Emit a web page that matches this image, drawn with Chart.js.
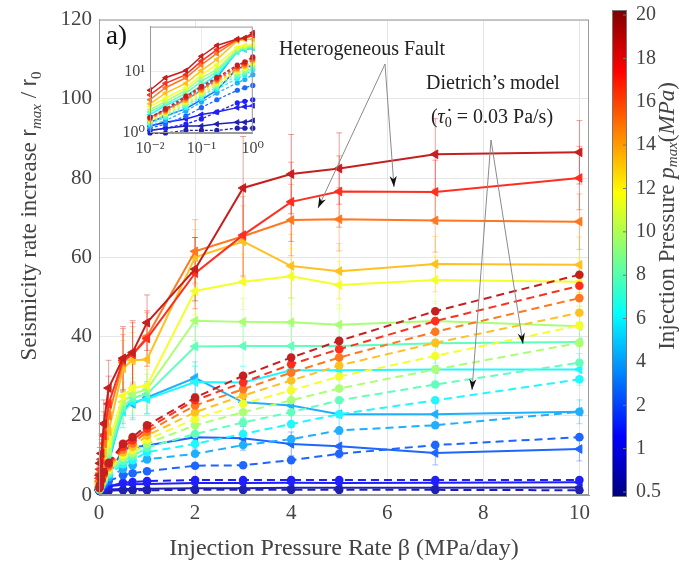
<!DOCTYPE html>
<html><head><meta charset="utf-8">
<script src="https://cdn.jsdelivr.net/npm/chart.js@4.4.1/dist/chart.umd.min.js"></script>
<style>
html,body{margin:0;padding:0;background:#fff;}
#wrap{position:relative;width:689px;height:568px;}
#main{position:absolute;left:0;top:0;}
#inset{position:absolute;left:105px;top:12px;}
</style></head><body>
<div id="wrap"><canvas id="main" width="689" height="568"></canvas><canvas id="inset" width="165" height="155"></canvas></div>
<script>
// ---------------- data ----------------
const betaRate = [0.01, 0.02, 0.05, 0.1, 0.2, 0.5, 0.7, 1, 2, 3, 4, 5, 7, 10];
const pressureLevels = [0.5, 1, 2, 4, 6, 8, 10, 12, 14, 16, 18, 20];
const colorbarLabels = ['0.5', '1', '2', '4', '6', '8', '10', '12', '14', '16', '18', '20'];
const xTicks = [0, 2, 4, 6, 8, 10];
const yTicks = [0, 20, 40, 60, 80, 100, 120];
const insetXTicks = [0.01, 0.1, 1];
const insetYTicks = [1, 10];

// Heterogeneous fault (solid lines, left triangles)
const het_p0_5 = [1.1, 1.2, 1.3, 1.3, 1.4, 1.5, 1.5, 1.6, 1.7, 1.7, 1.8, 1.8, 1.8, 1.9];
const het_p1   = [1.3, 1.5, 1.7, 2.0, 2.2, 2.6, 2.7, 2.8, 3.0, 3.0, 3.1, 3.0, 3.1, 3.2];
const het_p2   = [1.5, 1.9, 2.5, 3.5, 5.0, 11.5, 12.0, 12.5, 14.6, 14.3, 12.9, 12.3, 10.6, 11.6];
const het_p4   = [1.8, 2.4, 3.5, 5.0, 8.0, 22.0, 23.0, 24.6, 29.6, 23.4, 22.6, 20.4, 20.4, 21.0];
const het_p6   = [2.0, 2.8, 4.0, 6.0, 9.0, 21.0, 23.5, 24.2, 28.5, 28.4, 31.5, 31.5, 31.7, 31.7];
const het_p8   = [2.2, 3.0, 4.5, 7.0, 10.0, 22.0, 24.5, 25.5, 37.5, 37.6, 37.6, 37.6, 38.3, 38.6];
const het_p10  = [2.4, 3.3, 5.0, 8.0, 11.0, 23.5, 25.5, 26.7, 44.0, 43.7, 43.6, 43.0, 43.9, 42.6];
const het_p12  = [2.7, 3.7, 5.5, 9.0, 13.0, 25.0, 27.0, 27.6, 51.5, 53.8, 55.2, 53.0, 54.3, 53.8];
const het_p14  = [3.0, 4.5, 6.5, 10.5, 16.0, 32.0, 34.0, 34.2, 60.0, 64.0, 57.8, 56.5, 58.3, 58.1];
const het_p16  = [3.5, 5.5, 8.0, 13.0, 20.0, 33.5, 35.5, 40.0, 61.5, 65.3, 69.4, 69.6, 69.3, 69.0];
const het_p18  = [4.2, 6.5, 9.0, 15.0, 23.0, 34.0, 35.5, 39.5, 56.0, 65.6, 74.0, 76.6, 76.5, 80.0];
const het_p20  = [5.0, 8.0, 10.5, 18.0, 27.0, 34.5, 36.0, 43.5, 57.0, 77.5, 81.0, 82.4, 86.0, 86.5];

// error bar half-widths for the heterogeneous fault runs
const err_p0_5 = [0.3, 0.3, 0.3, 0.3, 0.3, 0.4, 0.4, 0.4, 0.4, 0.4, 0.4, 0.4, 0.4, 0.4];
const err_p1   = [0.3, 0.3, 0.5, 0.5, 0.5, 0.5, 0.5, 0.5, 0.6, 0.6, 0.6, 0.6, 0.6, 0.6];
const err_p2   = [0.5, 1, 1, 1, 2, 2, 2, 2, 3, 3, 3, 3, 3, 3];
const err_p4   = [1, 1, 2, 2, 3, 4, 4, 4, 4, 4, 4, 4, 3, 3];
const err_p6   = [1, 1, 2, 3, 3, 4, 4, 4, 4, 4, 4, 4, 4, 4];
const err_p8   = [1, 2, 2, 3, 4, 5, 5, 5, 5, 5, 5, 5, 5, 5];
const err_p10  = [1, 2, 3, 3, 4, 5, 5, 5, 5, 6, 6, 5, 5, 5];
const err_p12  = [2, 2, 3, 4, 5, 6, 6, 5, 6, 7, 7, 6, 6, 6];
const err_p14  = [2, 3, 4, 5, 6, 7, 7, 6, 7, 9, 8, 7, 7, 7];
const err_p16  = [2, 3, 4, 5, 6, 7, 7, 6, 8, 10, 9, 8, 8, 7];
const err_p18  = [3, 4, 5, 6, 7, 8, 8, 7, 9, 12, 10, 9, 8, 8];
const err_p20  = [3, 4, 5, 6, 7, 8, 8, 7, 8, 13, 10, 9, 9, 8];

// Dietrich's model (dashed lines, circles)
const dtr_p0_5 = [1.0, 1.0, 1.1, 1.1, 1.1, 1.2, 1.2, 1.2, 1.3, 1.3, 1.3, 1.3, 1.3, 1.2];
const dtr_p1   = [1.1, 1.2, 1.4, 1.7, 2.2, 3.1, 3.3, 3.5, 3.8, 3.8, 3.8, 3.8, 3.8, 3.8];
const dtr_p2   = [1.2, 1.4, 1.9, 2.6, 3.5, 5.0, 5.5, 6.0, 7.4, 7.5, 8.8, 10.4, 12.6, 14.6];
const dtr_p4   = [1.3, 1.6, 2.3, 3.2, 4.5, 6.6, 7.5, 9.0, 10.4, 12.6, 14.1, 16.3, 17.6, 21.0];
const dtr_p6   = [1.4, 1.8, 2.6, 3.7, 5.2, 7.8, 8.8, 10.8, 12.9, 15.4, 17.9, 20.4, 23.9, 29.2];
const dtr_p8   = [1.5, 1.9, 2.8, 4.0, 5.7, 8.6, 9.8, 12.0, 15.4, 18.3, 20.9, 23.9, 27.9, 33.4];
const dtr_p10  = [1.6, 2.0, 3.0, 4.3, 6.1, 9.4, 10.6, 13.0, 17.6, 20.9, 23.9, 26.9, 31.7, 38.4];
const dtr_p12  = [1.6, 2.1, 3.2, 4.6, 6.5, 10.1, 11.4, 14.0, 19.2, 23.0, 26.4, 29.9, 35.1, 42.8];
const dtr_p14  = [1.7, 2.2, 3.4, 4.9, 6.9, 10.8, 12.2, 15.0, 20.9, 25.1, 28.9, 32.7, 38.4, 46.0];
const dtr_p16  = [1.7, 2.3, 3.6, 5.2, 7.3, 11.5, 13.0, 16.0, 22.6, 26.7, 30.9, 34.7, 41.2, 49.7];
const dtr_p18  = [1.8, 2.4, 3.8, 5.5, 7.7, 12.2, 13.8, 16.8, 23.9, 28.4, 33.0, 36.8, 43.9, 52.8];
const dtr_p20  = [1.8, 2.5, 4.0, 5.8, 8.1, 12.9, 14.6, 17.6, 24.6, 30.1, 34.7, 38.9, 46.4, 55.6];

const hetRates = [het_p0_5, het_p1, het_p2, het_p4, het_p6, het_p8, het_p10, het_p12, het_p14, het_p16, het_p18, het_p20];
const hetErrs  = [err_p0_5, err_p1, err_p2, err_p4, err_p6, err_p8, err_p10, err_p12, err_p14, err_p16, err_p18, err_p20];
const dtrRates = [dtr_p0_5, dtr_p1, dtr_p2, dtr_p4, dtr_p6, dtr_p8, dtr_p10, dtr_p12, dtr_p14, dtr_p16, dtr_p18, dtr_p20];

// ---------------- styling helpers ----------------
const SERIF = '"Liberation Serif", "DejaVu Serif", serif';
const SANS = '"Liberation Sans", "DejaVu Sans", sans-serif';
function jet(t) {
  const c = v => Math.max(0, Math.min(1, v));
  return [c(1.5 - Math.abs(4 * t - 3)), c(1.5 - Math.abs(4 * t - 2)), c(1.5 - Math.abs(4 * t - 1))].map(v => Math.round(v * 255));
}
function colorOf(i, a) {
  const t = 0.04 + 0.9 * i / (pressureLevels.length - 1);
  const [r, g, b] = jet(t).map(v => Math.round(v * 0.88 + 255 * 0.12));
  return a === undefined ? `rgb(${r},${g},${b})` : `rgba(${r},${g},${b},${a})`;
}
function pts(vals, maxX) {
  return betaRate.map((x, k) => ({ x: x, y: vals[k] })).filter(p => maxX === undefined || p.x <= maxX);
}
function makeDatasets(inset) {
  const ds = [];
  const maxX = inset ? 1 : undefined;
  for (let i = pressureLevels.length - 1; i >= 0; i--) {
    const col = colorOf(i);
    ds.push({
      label: "Dietrich p=" + pressureLevels[i], data: pts(dtrRates[i], maxX),
      borderColor: col, backgroundColor: col, borderWidth: inset ? 1.3 : 2,
      borderDash: inset ? [3, 2] : [8, 5], pointStyle: 'circle',
      pointRadius: inset ? 2.6 : 4.3, pointBorderWidth: 0, pointBackgroundColor: col,
      tension: 0, clip: false
    });
  }
  for (let i = pressureLevels.length - 1; i >= 0; i--) {
    const col = colorOf(i);
    ds.push({
      label: "Heterogeneous p=" + pressureLevels[i], data: pts(hetRates[i], maxX),
      borderColor: col, backgroundColor: col, borderWidth: inset ? 1.5 : 2,
      pointStyle: 'triangle', rotation: -90, pointRotation: -90,
      pointRadius: inset ? 3 : 5, pointBorderWidth: 1, pointBorderColor: col, pointBackgroundColor: col,
      tension: 0, clip: false
    });
  }
  return ds;
}

function arrow(ctx, x1, y1, x2, y2) {
  ctx.save();
  ctx.strokeStyle = '#8a8a8a'; ctx.lineWidth = 1;
  ctx.beginPath(); ctx.moveTo(x1, y1); ctx.lineTo(x2, y2); ctx.stroke();
  const ang = Math.atan2(y2 - y1, x2 - x1), L = 11, W = 3.6;
  const bx = x2 - L * Math.cos(ang), by = y2 - L * Math.sin(ang);
  const ix = x2 - 0.7 * L * Math.cos(ang), iy = y2 - 0.7 * L * Math.sin(ang);
  ctx.fillStyle = '#111';
  ctx.beginPath();
  ctx.moveTo(x2, y2);
  ctx.lineTo(bx + W * Math.sin(ang), by - W * Math.cos(ang));
  ctx.lineTo(ix, iy);
  ctx.lineTo(bx - W * Math.sin(ang), by + W * Math.cos(ang));
  ctx.closePath(); ctx.fill();
  ctx.restore();
}

// draw a sequence of text runs [{t, font, dy}] centered at (0,0) in current transform
function runs(ctx, parts) {
  let total = 0;
  parts.forEach(p => { ctx.font = p.font; p.w = ctx.measureText(p.t).width; total += p.w; });
  let x = -total / 2;
  parts.forEach(p => { ctx.font = p.font; ctx.fillText(p.t, x, p.dy || 0); x += p.w; });
}

const errorBarPlugin = {
  id: 'errbars',
  beforeDatasetsDraw(chart) {
    const { ctx, scales: { x, y } } = chart;
    ctx.save();
    ctx.lineWidth = 1;
    for (let i = 0; i < pressureLevels.length; i++) {
      ctx.strokeStyle = colorOf(i, 0.42);
      betaRate.forEach((bx, k) => {
        const v = hetRates[i][k], e = hetErrs[i][k];
        const px = x.getPixelForValue(bx);
        const y1 = y.getPixelForValue(v + e), y2 = y.getPixelForValue(Math.max(0, v - e));
        ctx.beginPath();
        ctx.moveTo(px, y1); ctx.lineTo(px, y2);
        ctx.moveTo(px - 3, y1); ctx.lineTo(px + 3, y1);
        ctx.moveTo(px - 3, y2); ctx.lineTo(px + 3, y2);
        ctx.stroke();
      });
    }
    ctx.restore();
  }
};

const decorPlugin = {
  id: 'decor',
  afterDraw(chart) {
    const { ctx, chartArea: a } = chart;
    ctx.save();
    // frame
    ctx.strokeStyle = '#9a9a9a'; ctx.lineWidth = 1;
    ctx.strokeRect(a.left + 0.5, a.top + 0.5, a.right - a.left - 1, a.bottom - a.top - 1);

    ctx.fillStyle = '#333';
    ctx.textBaseline = 'alphabetic';
    // y-axis title
    ctx.save();
    ctx.translate(36, 216); ctx.rotate(-Math.PI / 2);
    ctx.fillStyle = '#444';
    runs(ctx, [
      { t: 'Seismicity rate increase ', font: '23px ' + SERIF },
      { t: 'r', font: '22px ' + SANS },
      { t: 'max', font: 'italic 15px ' + SERIF, dy: 5 },
      { t: ' / ', font: '23px ' + SERIF },
      { t: 'r', font: '22px ' + SANS },
      { t: '0', font: '15px ' + SERIF, dy: 5 }
    ]);
    ctx.restore();

    // colorbar
    const cbL = 612, cbR = 627, cbT = 10, cbB = 497;
    const tickTop = 15, tickBot = 492;
    const grad = ctx.createLinearGradient(0, cbB, 0, cbT);
    for (let s = 0; s <= 40; s++) {
      const t = s / 40; const [r, g, b] = jet(t);
      grad.addColorStop(t, `rgb(${r},${g},${b})`);
    }
    ctx.fillStyle = grad;
    ctx.fillRect(cbL, cbT, cbR - cbL, cbB - cbT);
    ctx.strokeStyle = '#777'; ctx.lineWidth = 1;
    ctx.strokeRect(cbL + 0.5, cbT + 0.5, cbR - cbL - 1, cbB - cbT - 1);
    ctx.fillStyle = '#444';
    ctx.font = '20px ' + SERIF; ctx.textAlign = 'left'; ctx.textBaseline = 'middle';
    colorbarLabels.forEach((lab, i) => {
      const yy = tickBot - i * (tickBot - tickTop) / (colorbarLabels.length - 1);
      ctx.beginPath(); ctx.moveTo(cbR - 4, yy); ctx.lineTo(cbR, yy); ctx.stroke();
      ctx.fillText(lab, 636, yy);
    });
    // colorbar title
    ctx.save();
    ctx.translate(668, 216); ctx.rotate(-Math.PI / 2);
    ctx.textAlign = 'left'; ctx.textBaseline = 'middle';
    runs(ctx, [
      { t: 'Injection Pressure ', font: '23px ' + SERIF },
      { t: 'p', font: 'italic 23px ' + SERIF },
      { t: 'max', font: 'italic 15px ' + SERIF, dy: 5 },
      { t: '(', font: '23px ' + SERIF },
      { t: 'MPa', font: 'italic 23px ' + SERIF },
      { t: ')', font: '23px ' + SERIF }
    ]);
    ctx.restore();

    // panel label
    ctx.fillStyle = '#111';
    ctx.textAlign = 'left'; ctx.textBaseline = 'middle';
    ctx.font = '27px ' + SERIF;
    ctx.fillText('a)', 106, 37);

    // annotations
    ctx.fillStyle = '#222';
    ctx.textAlign = 'center';
    ctx.font = '20px ' + SERIF;
    ctx.fillText('Heterogeneous Fault', 362, 50);
    ctx.fillText('Dietrich\u2019s model', 493, 84);
    ctx.save();
    ctx.translate(492, 118);
    ctx.textAlign = 'left';
    runs(ctx, [
      { t: '(', font: '20px ' + SERIF },
      { t: '\u03C4\u0307', font: 'italic 20px ' + SERIF },
      { t: '0', font: '14px ' + SERIF, dy: 5 },
      { t: ' = 0.03 Pa/s)', font: '20px ' + SERIF }
    ]);
    ctx.restore();

    arrow(ctx, 385, 64, 318, 208);
    arrow(ctx, 385, 64, 394, 187);
    arrow(ctx, 491, 140, 472, 390);
    arrow(ctx, 491, 140, 523, 344);
    ctx.restore();
  }
};

// ---------------- main chart ----------------
new Chart(document.getElementById('main'), {
  type: 'line',
  data: { datasets: makeDatasets(false) },
  options: {
    responsive: false, devicePixelRatio: 1, animation: false,
    layout: { padding: { top: 15, right: 100, bottom: 2, left: 0 } },
    plugins: { legend: { display: false }, tooltip: { enabled: false } },
    scales: {
      x: {
        type: 'linear', min: 0, max: 10.2,
        afterBuildTicks: s => { s.ticks = xTicks.map(v => ({ value: v })); },
        afterFit: s => { s.height = 71; },
        grid: { color: '#e6e6e6', drawTicks: false },
        border: { color: '#9a9a9a' },
        ticks: { font: { family: SERIF, size: 21 }, color: '#444', padding: 6, maxRotation: 0 },
        title: { display: true, text: 'Injection Pressure Rate \u03B2 (MPa/day)', font: { family: SERIF, size: 24 }, color: '#444', padding: { top: 0, bottom: 3 } }
      },
      y: {
        type: 'linear', min: 0, max: 120,
        afterBuildTicks: s => { s.ticks = yTicks.map(v => ({ value: v })); },
        afterFit: s => { s.width = 99; },
        grid: { color: '#e6e6e6', drawTicks: false },
        border: { color: '#9a9a9a' },
        ticks: { font: { family: SERIF, size: 21 }, color: '#444', padding: 7 }
      }
    }
  },
  plugins: [errorBarPlugin, decorPlugin]
});

// ---------------- inset (log-log) ----------------
const supMap = { '-': '\u207B', '0': '\u2070', '1': '\u00B9', '2': '\u00B2' };
function powLabel(v) {
  const e = String(Math.round(Math.log10(v)));
  return '10' + e.split('').map(c => supMap[c]).join('');
}
const insetPlugin = {
  id: 'insetbg',
  beforeDraw(chart) {
    const { ctx, chartArea: a } = chart;
    ctx.save(); ctx.fillStyle = '#fff';
    ctx.fillRect(a.left, a.top, a.right - a.left, a.bottom - a.top);
    ctx.restore();
  },
  afterDraw(chart) {
    const { ctx, chartArea: a } = chart;
    ctx.save(); ctx.strokeStyle = '#9a9a9a'; ctx.lineWidth = 1;
    ctx.strokeRect(a.left + 0.5, a.top + 0.5, a.right - a.left - 1, a.bottom - a.top - 1);
    ctx.restore();
  }
};
new Chart(document.getElementById('inset'), {
  type: 'line',
  data: { datasets: makeDatasets(true) },
  options: {
    responsive: false, devicePixelRatio: 1, animation: false,
    layout: { padding: { top: 8, right: 11, bottom: 0, left: 0 } },
    plugins: { legend: { display: false }, tooltip: { enabled: false } },
    scales: {
      x: {
        type: 'logarithmic', min: 0.01, max: 1,
        afterBuildTicks: s => { s.ticks = insetXTicks.map(v => ({ value: v })); },
        afterFit: s => { s.height = 34; },
        grid: { color: '#ececec', drawTicks: false },
        border: { color: '#9a9a9a' },
        ticks: { font: { family: SERIF, size: 16 }, color: '#444', padding: 6, maxRotation: 0, callback: v => powLabel(v) }
      },
      y: {
        type: 'logarithmic', min: 1, max: 55,
        afterBuildTicks: s => { s.ticks = insetYTicks.map(v => ({ value: v })); },
        afterFit: s => { s.width = 45; },
        grid: { color: '#ececec', drawTicks: false },
        border: { color: '#9a9a9a' },
        ticks: { font: { family: SERIF, size: 16 }, color: '#444', padding: 5, callback: v => powLabel(v) }
      }
    }
  },
  plugins: [insetPlugin]
});
</script>
</body></html>
